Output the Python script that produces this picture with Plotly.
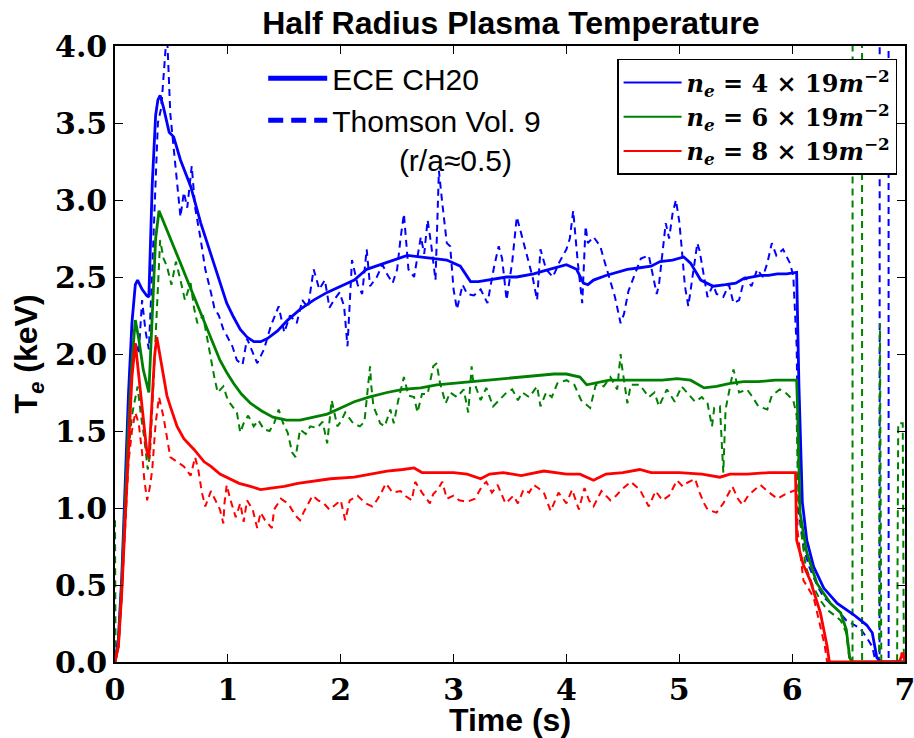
import plotly.graph_objects as go

# ---------------- data (time s, Te keV) ----------------
ece_ne4 = [(0, 0), (0.03, 0.15), (0.06, 0.55), (0.09, 1.2), (0.12, 1.75), (0.15, 2.2), (0.18, 2.45), (0.20, 2.48),
           (0.24, 2.42), (0.28, 2.38), (0.30, 2.37), (0.33, 3.1), (0.36, 3.55), (0.38, 3.65), (0.40, 3.68), (0.43, 3.6),
           (0.46, 3.5), (0.48, 3.44), (0.52, 3.41), (0.58, 3.26), (0.67, 3.09), (0.76, 2.85), (0.875, 2.59), (0.99, 2.33),
           (1.05, 2.24), (1.11, 2.16), (1.17, 2.11), (1.23, 2.08), (1.29, 2.08), (1.35, 2.10), (1.44, 2.15), (1.53, 2.22),
           (1.64, 2.29), (1.76, 2.35), (1.88, 2.40), (2.0, 2.44), (2.12, 2.48), (2.23, 2.55), (2.35, 2.58), (2.47, 2.61),
           (2.59, 2.64), (2.70, 2.63), (2.82, 2.62), (2.94, 2.61), (3.06, 2.57), (3.15, 2.47), (3.22, 2.47), (3.30, 2.48),
           (3.41, 2.49), (3.47, 2.50), (3.56, 2.50), (3.65, 2.51), (3.71, 2.52), (3.80, 2.54), (3.89, 2.56), (4.0, 2.58),
           (4.09, 2.55), (4.15, 2.46), (4.19, 2.45), (4.24, 2.48), (4.35, 2.51), (4.45, 2.53), (4.54, 2.55), (4.65, 2.56),
           (4.75, 2.57), (4.83, 2.60), (4.94, 2.61), (5.04, 2.63), (5.10, 2.59), (5.19, 2.48), (5.30, 2.44), (5.41, 2.45),
           (5.50, 2.46), (5.57, 2.49), (5.65, 2.50), (5.72, 2.51), (5.79, 2.51), (5.87, 2.52), (5.95, 2.52), (6.04, 2.53),
           (6.06, 1.8), (6.09, 1.04), (6.13, 0.79), (6.19, 0.62), (6.28, 0.48), (6.40, 0.38), (6.54, 0.31), (6.66, 0.24),
           (6.71, 0.19), (6.75, 0.03), (6.78, 0.0), (6.9, 0.0), (7.0, 0.0)]

ece_ne6 = [(0, 0), (0.03, 0.12), (0.06, 0.5), (0.09, 1.05), (0.12, 1.55), (0.15, 1.95), (0.18, 2.22), (0.21, 2.1),
           (0.25, 1.9), (0.30, 1.75), (0.33, 2.3), (0.36, 2.75), (0.39, 2.93), (0.43, 2.86), (0.46, 2.81), (0.55, 2.65),
           (0.58, 2.59), (0.64, 2.48), (0.70, 2.37), (0.76, 2.26), (0.82, 2.16), (0.88, 2.05), (0.93, 1.96), (0.99, 1.88),
           (1.05, 1.81), (1.12, 1.74), (1.20, 1.68), (1.30, 1.63), (1.40, 1.59), (1.52, 1.57), (1.64, 1.57), (1.76, 1.59),
           (1.88, 1.61), (2.0, 1.65), (2.12, 1.69), (2.25, 1.72), (2.41, 1.75), (2.55, 1.77), (2.71, 1.78), (2.85, 1.80),
           (3.0, 1.81), (3.15, 1.82), (3.30, 1.83), (3.45, 1.84), (3.59, 1.85), (3.75, 1.86), (3.89, 1.87), (4.0, 1.87),
           (4.12, 1.85), (4.18, 1.80), (4.25, 1.81), (4.38, 1.83), (4.5, 1.83), (4.68, 1.83), (4.85, 1.83), (4.98, 1.84),
           (5.1, 1.83), (5.22, 1.78), (5.33, 1.79), (5.45, 1.81), (5.57, 1.82), (5.7, 1.82), (5.85, 1.83), (6.04, 1.83),
           (6.05, 1.6), (6.07, 0.97), (6.13, 0.71), (6.22, 0.51), (6.34, 0.38), (6.43, 0.32), (6.48, 0.21), (6.51, 0.03),
           (6.53, 0.0), (7.0, 0.0)]

ece_ne8 = [(0, 0), (0.03, 0.1), (0.06, 0.45), (0.09, 0.95), (0.12, 1.45), (0.15, 1.85), (0.18, 2.07), (0.21, 1.85),
           (0.25, 1.58), (0.28, 1.38), (0.30, 1.32), (0.33, 1.7), (0.35, 1.98), (0.37, 2.11), (0.40, 1.98), (0.43, 1.87),
           (0.46, 1.73), (0.49, 1.66), (0.55, 1.53), (0.61, 1.45), (0.70, 1.38), (0.79, 1.30), (0.85, 1.27), (0.93, 1.22),
           (1.02, 1.19), (1.10, 1.16), (1.20, 1.14), (1.29, 1.12), (1.40, 1.13), (1.50, 1.14), (1.62, 1.16), (1.73, 1.17),
           (1.82, 1.18), (1.91, 1.19), (2.12, 1.20), (2.25, 1.22), (2.41, 1.24), (2.55, 1.25), (2.65, 1.26), (2.72, 1.23),
           (2.85, 1.23), (3.0, 1.23), (3.12, 1.22), (3.24, 1.19), (3.32, 1.22), (3.44, 1.23), (3.6, 1.21), (3.8, 1.24),
           (4.0, 1.22), (4.12, 1.22), (4.24, 1.18), (4.35, 1.22), (4.50, 1.23), (4.65, 1.25), (4.75, 1.23), (5.0, 1.23),
           (5.2, 1.22), (5.36, 1.20), (5.45, 1.22), (5.6, 1.22), (5.8, 1.23), (6.03, 1.23), (6.04, 0.79), (6.10, 0.63),
           (6.16, 0.53), (6.25, 0.32), (6.31, 0.10), (6.33, 0.0), (6.95, 0.0), (6.98, 0.06), (7.0, 0.0)]

thomson_ne4 = [(0, 0), (0.03, 0.1), (0.06, 0.5), (0.09, 1.1), (0.12, 1.6), (0.15, 2.0), (0.18, 2.08), (0.21, 2.0),
               (0.24, 2.35), (0.27, 2.15), (0.30, 2.03), (0.33, 2.55), (0.36, 3.2), (0.38, 3.5), (0.41, 3.6), (0.44, 3.9),
               (0.46, 4.1), (0.49, 3.56), (0.52, 3.35), (0.55, 3.13), (0.58, 2.89), (0.61, 3.05), (0.64, 2.95),
               (0.68, 3.22), (0.71, 2.95), (0.76, 2.74), (0.80, 2.55), (0.85, 2.40), (0.88, 2.30), (0.92, 2.25),
               (0.96, 2.16), (0.99, 2.12), (1.04, 2.05), (1.08, 1.96), (1.13, 1.93), (1.17, 2.1), (1.20, 2.05),
               (1.26, 1.94), (1.32, 2.03), (1.38, 2.18), (1.45, 2.31), (1.50, 2.14), (1.55, 2.25), (1.61, 2.20),
               (1.66, 2.35), (1.71, 2.3), (1.76, 2.55), (1.81, 2.42), (1.86, 2.48), (1.90, 2.30), (1.94, 2.35),
               (1.99, 2.40), (2.03, 2.31), (2.06, 2.05), (2.10, 2.61), (2.15, 2.45), (2.19, 2.39), (2.23, 2.68),
               (2.26, 2.44), (2.32, 2.50), (2.37, 2.58), (2.41, 2.52), (2.46, 2.46), (2.50, 2.55), (2.53, 2.75),
               (2.56, 2.91), (2.60, 2.55), (2.65, 2.50), (2.71, 2.76), (2.74, 2.65), (2.77, 2.87), (2.80, 2.72),
               (2.84, 2.48), (2.87, 3.19), (2.90, 2.98), (2.94, 2.72), (2.97, 2.70), (3.0, 2.42), (3.03, 2.29),
               (3.08, 2.45), (3.12, 2.39), (3.18, 2.38), (3.24, 2.42), (3.30, 2.33), (3.36, 2.57), (3.40, 2.70),
               (3.43, 2.62), (3.47, 2.35), (3.52, 2.6), (3.56, 2.89), (3.60, 2.78), (3.65, 2.63), (3.70, 2.5),
               (3.74, 2.35), (3.77, 2.68), (3.82, 2.55), (3.88, 2.5), (3.94, 2.6), (4.0, 2.68), (4.03, 2.75),
               (4.06, 2.93), (4.10, 2.6), (4.14, 2.33), (4.17, 2.83), (4.19, 2.72), (4.24, 2.76), (4.30, 2.70),
               (4.33, 2.62), (4.38, 2.5), (4.43, 2.37), (4.48, 2.2), (4.51, 2.26), (4.55, 2.41), (4.60, 2.5),
               (4.66, 2.62), (4.73, 2.64), (4.80, 2.39), (4.82, 2.45), (4.88, 2.85), (4.91, 2.75), (4.94, 2.91),
               (4.97, 3.0), (5.0, 2.86), (5.02, 2.70), (5.05, 2.44), (5.08, 2.31), (5.12, 2.5), (5.16, 2.72),
               (5.18, 2.67), (5.22, 2.5), (5.25, 2.37), (5.30, 2.45), (5.33, 2.39), (5.39, 2.37), (5.44, 2.45),
               (5.48, 2.33), (5.53, 2.35), (5.58, 2.5), (5.64, 2.44), (5.69, 2.55), (5.74, 2.5), (5.78, 2.59),
               (5.82, 2.72), (5.86, 2.64), (5.92, 2.68), (5.98, 2.59), (6.01, 2.51), (6.04, 2.05), (6.05, 1.4),
               (6.06, 0.97), (6.10, 0.75), (6.15, 0.62), (6.22, 0.5), (6.28, 0.42), (6.34, 0.38), (6.40, 0.34),
               (6.48, 0.27), (6.55, 0.24), (6.60, 0.22), (6.66, 0.16), (6.71, 0.10), (6.74, 0.0), (6.775, 0.0),
               (6.785, 60), (6.845, 60), (6.855, 0.0), (6.9, 0.0), (7.0, 0.0)]

thomson_ne6 = [(0.0, 0.92), (0.005, 0.02), (0.03, 0.1), (0.06, 0.45), (0.09, 0.95), (0.12, 1.35), (0.15, 1.6),
               (0.18, 1.72), (0.20, 1.79), (0.23, 1.6), (0.26, 1.45), (0.29, 1.25), (0.31, 1.35), (0.34, 1.8),
               (0.37, 2.3), (0.40, 2.74), (0.43, 2.62), (0.46, 2.57), (0.50, 2.45), (0.54, 2.6), (0.58, 2.48),
               (0.62, 2.35), (0.67, 2.46), (0.70, 2.30), (0.73, 2.20), (0.78, 2.25), (0.82, 2.09), (0.85, 1.96),
               (0.88, 1.85), (0.91, 1.75), (0.96, 1.79), (1.00, 1.70), (1.04, 1.66), (1.08, 1.62), (1.11, 1.49),
               (1.14, 1.55), (1.18, 1.6), (1.23, 1.53), (1.27, 1.57), (1.32, 1.51), (1.37, 1.5), (1.41, 1.55),
               (1.45, 1.64), (1.49, 1.55), (1.53, 1.49), (1.57, 1.36), (1.60, 1.33), (1.64, 1.51), (1.69, 1.48),
               (1.73, 1.53), (1.79, 1.52), (1.84, 1.56), (1.88, 1.42), (1.92, 1.70), (1.97, 1.53), (2.0, 1.56),
               (2.04, 1.62), (2.07, 1.59), (2.11, 1.55), (2.17, 1.53), (2.21, 1.56), (2.26, 1.92), (2.27, 1.80),
               (2.29, 1.66), (2.35, 1.55), (2.39, 1.53), (2.44, 1.64), (2.47, 1.55), (2.51, 1.70), (2.56, 1.85),
               (2.60, 1.73), (2.65, 1.72), (2.68, 1.62), (2.72, 1.74), (2.77, 1.74), (2.82, 1.92), (2.85, 1.94),
               (2.88, 1.81), (2.93, 1.68), (2.97, 1.75), (3.03, 1.72), (3.09, 1.77), (3.11, 1.70), (3.13, 1.62),
               (3.16, 1.92), (3.17, 1.84), (3.24, 1.70), (3.29, 1.78), (3.35, 1.66), (3.43, 1.72), (3.47, 1.75),
               (3.52, 1.77), (3.57, 1.70), (3.61, 1.75), (3.67, 1.72), (3.74, 1.79), (3.77, 1.66), (3.82, 1.75),
               (3.87, 1.72), (3.92, 1.81), (4.0, 1.83), (4.07, 1.80), (4.13, 1.70), (4.21, 1.65), (4.26, 1.80),
               (4.33, 1.79), (4.39, 1.85), (4.45, 1.77), (4.48, 2.0), (4.49, 1.93), (4.54, 1.68), (4.57, 1.80),
               (4.65, 1.80), (4.73, 1.72), (4.78, 1.75), (4.82, 1.66), (4.89, 1.77), (4.96, 1.69), (5.02, 1.79),
               (5.08, 1.74), (5.14, 1.69), (5.20, 1.72), (5.25, 1.68), (5.29, 1.53), (5.31, 1.65), (5.36, 1.66),
               (5.38, 1.36), (5.39, 1.23), (5.41, 1.64), (5.48, 1.90), (5.53, 1.75), (5.60, 1.77), (5.65, 1.72),
               (5.70, 1.66), (5.78, 1.64), (5.82, 1.73), (5.89, 1.77), (5.94, 1.75), (6.01, 1.70), (6.04, 1.6),
               (6.05, 1.18), (6.08, 0.85), (6.12, 0.62), (6.18, 0.5), (6.25, 0.4), (6.31, 0.34), (6.38, 0.3),
               (6.43, 0.27), (6.48, 0.19), (6.51, 0.0), (6.535, 0.0), (6.545, 60), (6.61, 60), (6.62, 0.0),
               (6.70, 0.0), (6.77, 0.0), (6.778, 2.2), (6.79, 0.0), (6.93, 0.0), (6.94, 1.55), (6.98, 1.55),
               (6.99, 0.0), (7.0, 0.0)]

thomson_ne8 = [(0, 0), (0.03, 0.1), (0.06, 0.45), (0.09, 0.9), (0.12, 1.3), (0.15, 1.5), (0.18, 1.62), (0.21, 1.55),
               (0.24, 1.36), (0.26, 1.18), (0.285, 1.05), (0.31, 1.14), (0.33, 1.25), (0.36, 1.55), (0.39, 1.72),
               (0.43, 1.59), (0.46, 1.45), (0.49, 1.33), (0.55, 1.30), (0.61, 1.27), (0.67, 1.21), (0.71, 1.33),
               (0.74, 1.24), (0.77, 1.10), (0.80, 1.01), (0.85, 1.11), (0.89, 1.05), (0.93, 0.99), (0.96, 0.90),
               (0.97, 1.03), (0.99, 1.15), (1.02, 1.06), (1.07, 0.94), (1.11, 1.03), (1.14, 0.91), (1.17, 1.05),
               (1.22, 0.99), (1.26, 0.87), (1.29, 0.97), (1.33, 0.92), (1.39, 0.87), (1.41, 0.99), (1.47, 1.06),
               (1.51, 1.04), (1.55, 1.01), (1.60, 0.95), (1.64, 0.92), (1.67, 0.97), (1.75, 1.08), (1.80, 1.05),
               (1.85, 1.03), (1.90, 0.99), (1.95, 1.02), (2.0, 1.05), (2.04, 0.92), (2.08, 1.05), (2.15, 1.08),
               (2.19, 1.05), (2.22, 1.03), (2.28, 1.01), (2.32, 1.05), (2.36, 1.1), (2.40, 1.16), (2.46, 1.10),
               (2.53, 1.11), (2.57, 1.08), (2.63, 1.05), (2.66, 1.17), (2.72, 1.10), (2.79, 1.03), (2.82, 1.09),
               (2.86, 1.12), (2.90, 1.17), (2.94, 1.06), (3.0, 1.08), (3.05, 1.05), (3.12, 1.04), (3.19, 1.06),
               (3.25, 1.14), (3.29, 1.17), (3.34, 1.10), (3.39, 1.15), (3.46, 1.03), (3.49, 1.05), (3.53, 1.08),
               (3.57, 1.03), (3.62, 1.12), (3.67, 1.10), (3.71, 1.15), (3.75, 1.13), (3.80, 1.10), (3.86, 0.98),
               (3.93, 1.10), (4.0, 1.03), (4.05, 1.12), (4.11, 0.99), (4.16, 1.13), (4.20, 1.05), (4.24, 1.01),
               (4.31, 1.11), (4.39, 1.05), (4.44, 1.08), (4.49, 1.12), (4.57, 1.17), (4.65, 1.12), (4.70, 1.05),
               (4.73, 1.01), (4.79, 1.11), (4.85, 1.05), (4.91, 1.08), (4.98, 1.18), (5.03, 1.14), (5.06, 1.16),
               (5.14, 1.19), (5.18, 1.1), (5.22, 1.03), (5.25, 0.99), (5.33, 0.97), (5.39, 1.03), (5.47, 1.14),
               (5.52, 1.06), (5.56, 1.02), (5.61, 1.08), (5.67, 1.12), (5.72, 1.15), (5.78, 1.11), (5.87, 1.06),
               (5.94, 1.09), (6.01, 1.11), (6.04, 1.12), (6.05, 0.84), (6.10, 0.53), (6.15, 0.47), (6.19, 0.42),
               (6.25, 0.23), (6.29, 0.10), (6.31, 0.0), (6.95, 0.0), (6.97, 0.06), (7.0, 0.0)]

density_labels = ["4", "6", "8"]
colors = ["#0000ff", "#008000", "#ff0000"]
x_ticks = [0, 1, 2, 3, 4, 5, 6, 7]
y_ticks = [0.0, 0.5, 1.0, 1.5, 2.0, 2.5, 3.0, 3.5, 4.0]

fig = go.Figure()

# dashed Thomson traces first, solid ECE on top
for series, c in zip([thomson_ne4, thomson_ne6, thomson_ne8], colors):
    t, v = zip(*series)
    fig.add_trace(go.Scatter(x=t, y=v, mode="lines", showlegend=False,
                             line=dict(color=c, width=2, dash="7px,5px")))
for series, c in zip([ece_ne4, ece_ne6, ece_ne8], colors):
    t, v = zip(*series)
    fig.add_trace(go.Scatter(x=t, y=v, mode="lines", showlegend=False,
                             line=dict(color=c, width=2.8)))

# legend 1 : diagnostic line styles
fig.add_trace(go.Scatter(x=[None], y=[None], mode="lines", name="ECE CH20", legend="legend",
                         line=dict(color="#0000ff", width=5)))
fig.add_trace(go.Scatter(x=[None], y=[None], mode="lines",
                         name="Thomson Vol. 9<br>\u00a0\u00a0\u00a0\u00a0\u00a0\u00a0\u00a0\u00a0(r/a\u22480.5)",
                         legend="legend", line=dict(color="#0000ff", width=5, dash="15px,8px")))

# legend 2 : densities
for lab, c in zip(density_labels, colors):
    fig.add_trace(go.Scatter(x=[None], y=[None], mode="lines", legend="legend2",
                             name="<i>n<sub>e</sub></i> = " + lab + " \u00d7 19<i>m</i><sup>\u22122</sup>",
                             line=dict(color=c, width=2)))

axis_common = dict(showline=True, linecolor="black", linewidth=1.5, mirror="allticks", ticks="inside",
                   ticklen=8, tickwidth=1, tickcolor="black", showgrid=False, zeroline=False, automargin=False,
                   ticklabeloverflow="allow",
                   tickfont=dict(family="DejaVu Serif", size=30, color="black", weight="bold"))

title_font = dict(family="Liberation Sans", size=32, color="black", weight="bold")
label_font = dict(family="Liberation Sans", size=32, color="black", weight="bold")

fig.update_layout(
    width=914, height=738,
    margin=dict(l=115, r=9, t=46, b=76),
    paper_bgcolor="white", plot_bgcolor="white",
    title=dict(text="Half Radius Plasma Temperature", x=0.559, xanchor="center", y=0.969, yanchor="middle",
               font=title_font),
    xaxis=dict(range=[0, 7], tickvals=x_ticks, ticktext=[str(v) for v in x_ticks],
               title=dict(text="Time (s)", standoff=6, font=label_font), **axis_common),
    yaxis=dict(range=[0, 4], tickvals=y_ticks, ticktext=["%.1f" % v for v in y_ticks],
               title=dict(text="T<sub><i>e</i></sub> (keV)", standoff=8, font=label_font), **axis_common),
    legend=dict(x=0.1876, y=0.99, xanchor="left", yanchor="top", bgcolor="rgba(0,0,0,0)", borderwidth=0,
                valign="top", itemwidth=59,
                font=dict(family="Liberation Sans", size=30, color="black")),
    legend2=dict(x=0.99, y=0.979, xanchor="right", yanchor="top", bgcolor="white", bordercolor="black",
                 borderwidth=1.5, itemwidth=58,
                 font=dict(family="DejaVu Serif", size=24, color="black", weight="bold")),
)

# remove the default page margin so the figure fills the 914x738 window exactly
fig.write_html("out.html", config={"displayModeBar": False},
               post_script="document.body.style.margin='0px';document.body.style.overflow='hidden';")
